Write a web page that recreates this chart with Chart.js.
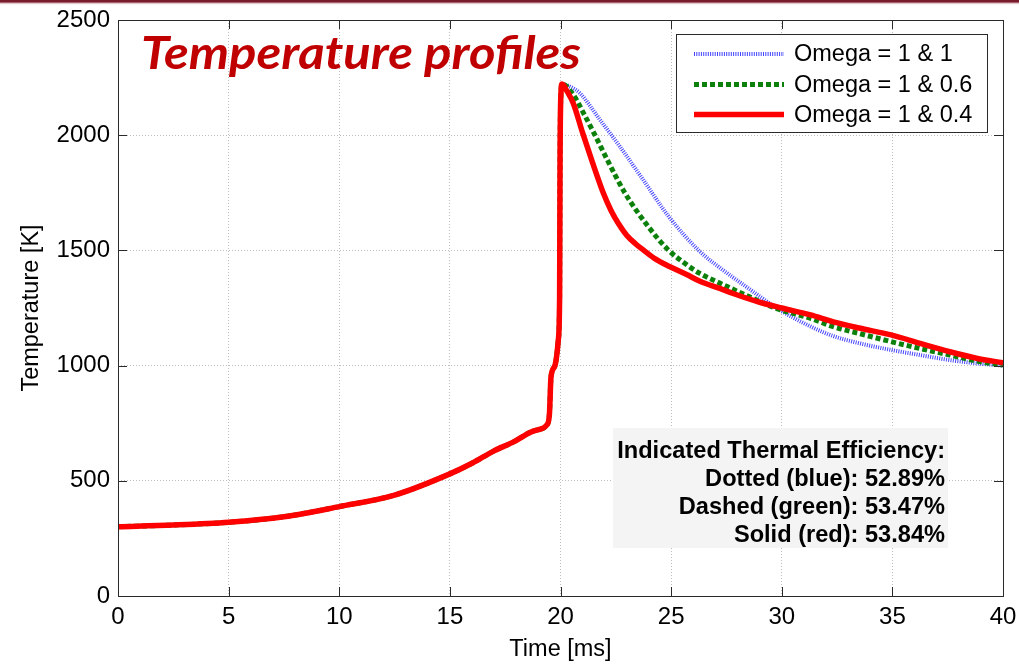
<!DOCTYPE html>
<html>
<head>
<meta charset="utf-8">
<title>Temperature profiles</title>
<script src="https://cdn.jsdelivr.net/npm/chart.js@4.4.1/dist/chart.umd.min.js"></script>
<style>
  html, body { margin: 0; padding: 0; background: #fff; }
  #wrap { position: relative; width: 1019px; height: 664px; }
  #band { position: absolute; left: 0; top: 0; width: 1019px; height: 5px;
          background: linear-gradient(to bottom, #7a1b2b 0px, #7a1b2b 2px, #cfa9b0 3px, #f4e9eb 4px, #ffffff 5px); }
  canvas { display: block; }
</style>
</head>
<body>
<div id="wrap">
  <canvas id="chart" width="1019" height="664"></canvas>
  <div id="band"></div>
</div>
<script>
// Compression + combustion rise, shared by all three cases (ms, K)
const compressionTime = [0, 2.5, 5, 7.5, 10, 12.5, 15, 16, 17, 17.9, 18.6, 19.0, 19.38, 19.5, 19.57, 19.75, 19.9, 19.96, 19.98, 20.02, 20.07];
const compressionTemp = [301, 308, 320, 344, 388, 438, 530, 576, 630, 670, 709, 722, 742, 790, 950, 1000, 1110, 1300, 1900, 2180, 2222];

// Expansion stroke, Omega = 1 & 1
const blueTime = [20.4, 20.88, 21.79, 22.69, 23.74, 24.9, 26.3, 27.2, 28.5, 29.8, 31.3, 32.33, 33.6, 34.94, 36.3, 37.6, 38.8, 40];
const blueTemp = [2212, 2182, 2066, 1950, 1806, 1646, 1495, 1425, 1335, 1248, 1170, 1128, 1095, 1068, 1045, 1024, 1010, 1000];

// Expansion stroke, Omega = 1 & 0.6
const greenTime = [20.58, 21.1, 21.48, 22.12, 22.92, 23.97, 24.87, 25.6, 26.3, 27.2, 28.4, 29.7, 31.3, 32.33, 33.6, 34.94, 36.3, 37.6, 38.8, 40];
const greenTemp = [2175, 2085, 2015, 1892, 1748, 1603, 1502, 1445, 1400, 1358, 1305, 1250, 1205, 1169, 1137, 1104, 1073, 1046, 1020, 1002];

// Expansion stroke, Omega = 1 & 0.4
const redTime = [20.3, 20.58, 21.0, 21.41, 21.94, 22.3, 22.61, 23.0, 23.4, 23.74, 24.3, 24.95, 25.7, 26.3, 27.2, 27.8, 29.0, 30, 31.3, 32.33, 33.5, 34.94, 36.3, 37.6, 38.8, 40];
const redTemp = [2190, 2138, 2010, 1892, 1748, 1670, 1618, 1565, 1528, 1502, 1462, 1429, 1395, 1366, 1335, 1313, 1275, 1250, 1220, 1190, 1163, 1133, 1095, 1060, 1032, 1012];

const seriesNames = ['Omega = 1 & 1', 'Omega = 1 & 0.6', 'Omega = 1 & 0.4'];
const xTickLabels = ['0', '5', '10', '15', '20', '25', '30', '35', '40'];
const yTickLabels = ['0', '500', '1000', '1500', '2000', '2500'];
const efficiencyLines = ['Indicated Thermal Efficiency:', 'Dotted (blue): 52.89%', 'Dashed (green): 53.47%', 'Solid (red): 53.84%'];

function toPoints(tA, vA, tB, vB) {
  const pts = [];
  for (let i = 0; i < tA.length; i++) pts.push({ x: tA[i], y: vA[i] });
  for (let i = 0; i < tB.length; i++) pts.push({ x: tB[i], y: vB[i] });
  return pts;
}

const styles = [
  { color: 'rgba(35,35,255,0.85)', width: 4, dash: [1, 1.3] },
  { color: '#0b800b', width: 5, dash: [5, 3] },
  { color: '#ff0000', width: 5.5, dash: [] }
];

const FONT = "'Liberation Sans', Arial, sans-serif";
const FRAME = '#2a2a2a';

// Axes box with inward ticks on all four sides
const framePlugin = {
  id: 'frame',
  afterDatasetsDraw(chart) {
    const { ctx, chartArea: a, scales } = chart;
    ctx.save();
    ctx.strokeStyle = FRAME;
    ctx.lineWidth = 1;
    ctx.setLineDash([]);
    ctx.strokeRect(Math.round(a.left) + 0.5, Math.round(a.top) + 0.5,
                   Math.round(a.right - a.left), Math.round(a.bottom - a.top));
    const tl = 9;
    ctx.beginPath();
    scales.x.ticks.forEach(t => {
      const px = Math.round(scales.x.getPixelForValue(t.value)) + 0.5;
      ctx.moveTo(px, a.bottom); ctx.lineTo(px, a.bottom - tl);
      ctx.moveTo(px, a.top); ctx.lineTo(px, a.top + tl);
    });
    scales.y.ticks.forEach(t => {
      const py = Math.round(scales.y.getPixelForValue(t.value)) + 0.5;
      ctx.moveTo(a.left, py); ctx.lineTo(a.left + tl, py);
      ctx.moveTo(a.right, py); ctx.lineTo(a.right - tl, py);
    });
    ctx.stroke();
    ctx.restore();
  }
};

// Legend box, efficiency note and heading
const overlayPlugin = {
  id: 'overlay',
  afterDraw(chart) {
    const { ctx } = chart;
    ctx.save();

    // legend
    ctx.fillStyle = '#ffffff';
    ctx.fillRect(676, 34, 311, 98);
    ctx.strokeStyle = FRAME;
    ctx.lineWidth = 1;
    ctx.setLineDash([]);
    ctx.strokeRect(676.5, 34.5, 311, 98);
    const rows = [54, 84.5, 114.5];
    for (let i = 0; i < 3; i++) {
      const s = styles[i];
      ctx.beginPath();
      ctx.strokeStyle = s.color;
      ctx.lineWidth = s.width;
      ctx.setLineDash(s.dash);
      ctx.moveTo(694, rows[i]);
      ctx.lineTo(784, rows[i]);
      ctx.stroke();
      ctx.setLineDash([]);
      ctx.fillStyle = '#000';
      ctx.font = '23.5px ' + FONT;
      ctx.textAlign = 'left';
      ctx.textBaseline = 'middle';
      ctx.fillText(seriesNames[i], 794, rows[i] + 1);
    }

    // efficiency note
    ctx.fillStyle = '#f4f4f4';
    ctx.fillRect(613, 428, 335, 120);
    ctx.fillStyle = '#000';
    ctx.font = 'bold 23.6px ' + FONT;
    ctx.textAlign = 'right';
    ctx.textBaseline = 'alphabetic';
    const base = [458, 486, 514, 542];
    efficiencyLines.forEach((t, i) => ctx.fillText(t, 945, base[i]));

    // heading
    const heading = 'Temperature profiles';
    ctx.font = "italic bold 45.5px Lato, 'Open Sans', sans-serif";
    ctx.textAlign = 'left';
    const w = ctx.measureText(heading).width;
    ctx.translate(141, 69);
    ctx.scale(440 / w, 1);
    ctx.fillStyle = '#c00000';
    ctx.fillText(heading, 0, 0);

    ctx.restore();
  }
};

new Chart(document.getElementById('chart'), {
  type: 'line',
  data: {
    datasets: [
      { label: seriesNames[0], data: toPoints(compressionTime, compressionTemp, blueTime, blueTemp),
        borderColor: styles[0].color, borderWidth: styles[0].width, borderDash: styles[0].dash, order: 2 },
      { label: seriesNames[1], data: toPoints(compressionTime, compressionTemp, greenTime, greenTemp),
        borderColor: styles[1].color, borderWidth: styles[1].width, borderDash: styles[1].dash, order: 1 },
      { label: seriesNames[2], data: toPoints(compressionTime, compressionTemp, redTime, redTemp),
        borderColor: styles[2].color, borderWidth: styles[2].width, borderDash: styles[2].dash, order: 0 }
    ]
  },
  options: {
    responsive: false,
    animation: false,
    events: [],
    layout: { padding: { top: 20, right: 16, left: 0, bottom: 0 } },
    elements: {
      point: { radius: 0 },
      line: { cubicInterpolationMode: 'monotone', fill: false, borderCapStyle: 'butt', borderJoinStyle: 'round' }
    },
    plugins: { legend: { display: false }, tooltip: { enabled: false }, title: { display: false } },
    scales: {
      x: {
        type: 'linear', min: 0, max: 40,
        afterFit(s) { s.height = 68; s.paddingLeft = 0; s.paddingRight = 0; },
        afterBuildTicks(s) { s.ticks = xTickLabels.map(v => ({ value: Number(v) })); },
        ticks: { callback: v => String(v), color: '#000', font: { family: FONT, size: 24 }, padding: 7, maxRotation: 0 },
        grid: { color: '#bdbdbd', lineWidth: 1, drawTicks: false },
        border: { display: false, dash: [1, 2] },
        title: { display: true, text: 'Time [ms]', color: '#000', font: { family: FONT, size: 23.5 }, padding: { top: 0, bottom: 0 } }
      },
      y: {
        type: 'linear', min: 0, max: 2500,
        afterFit(s) { s.width = 118; s.paddingTop = 0; s.paddingBottom = 0; },
        afterBuildTicks(s) { s.ticks = yTickLabels.map(v => ({ value: Number(v) })); },
        ticks: { callback: v => String(v), color: '#000', font: { family: FONT, size: 24 }, padding: 8 },
        grid: { color: '#bdbdbd', lineWidth: 1, drawTicks: false },
        border: { display: false, dash: [1, 2] },
        title: { display: true, text: 'Temperature [K]', color: '#000', font: { family: FONT, size: 23.5 }, padding: { top: 17, bottom: 0 } }
      }
    }
  },
  plugins: [framePlugin, overlayPlugin]
});
</script>
</body>
</html>
